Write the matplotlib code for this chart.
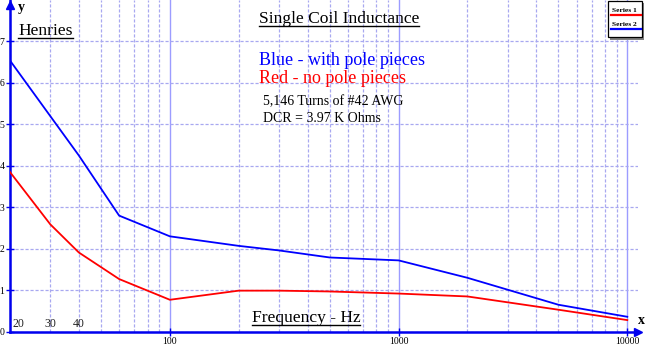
import matplotlib
matplotlib.use('Agg')
import matplotlib.pyplot as plt
from matplotlib.lines import Line2D
from matplotlib.patches import Rectangle
from matplotlib.ticker import LogLocator, NullFormatter, FixedLocator

# ---- data ----
freq = [20, 30, 40, 60, 100, 200, 300, 500, 1000, 2000, 5000, 10000]
with_poles = [6.54, 5.20, 4.25, 2.80, 2.30, 2.07, 1.96, 1.79, 1.72, 1.30, 0.65, 0.36]
no_poles = [3.85, 2.59, 1.91, 1.27, 0.77, 0.99, 0.99, 0.97, 0.92, 0.85, 0.53, 0.28]
x_ticks = [100, 1000, 10000]
x_tick_labels = ['100', '1000', '10000']
y_ticks = [0, 1, 2, 3, 4, 5, 6, 7]
low_labels = ['20', '30', '40']
low_label_x = [20, 30, 40]
series_names = ['Series 1', 'Series 2']

W, H = 645, 347
SERIF = ['Liberation Serif', 'DejaVu Serif']
AXBLUE = '#0000ee'
GRID = '#a8a8f0'

fig = plt.figure(figsize=(W / 100, H / 100), dpi=100)
fig.patch.set_facecolor('white')
ax = fig.add_axes([10 / W, 1 - 331.7 / H, 628 / W, 331.7 / H])
ax.set_facecolor('white')

ax.set_xscale('log')
ax.set_xlim(20, 11140)
ax.set_ylim(0, 8)

# grid
ax.xaxis.set_major_locator(FixedLocator(x_ticks))
ax.set_xticklabels(x_tick_labels)
ax.xaxis.set_minor_locator(LogLocator(base=10, subs=[2, 3, 4, 5, 6, 7, 8, 9]))
ax.xaxis.set_minor_formatter(NullFormatter())
ax.set_yticks(y_ticks)
ax.set_yticklabels([str(v) for v in y_ticks])

ax.grid(which='major', axis='y', color=GRID, linestyle=(0, (2.5, 1.5)), lw=0.9)
ax.grid(which='minor', axis='x', color=GRID, linestyle=(0, (2.5, 1.5)), lw=0.9)
ax.grid(which='major', axis='x', color='#9c9cff', linestyle='-', lw=1.0)
ax.set_axisbelow(True)

for s in ['top', 'right']:
    ax.spines[s].set_visible(False)
for s in ['left', 'bottom']:
    ax.spines[s].set_color(AXBLUE)
    ax.spines[s].set_linewidth(1.8)

ax.tick_params(axis='both', which='major', direction='inout', length=6,
               width=1.0, color=AXBLUE, labelsize=7, pad=1)
ax.tick_params(axis='x', which='minor', length=0)
for lab in ax.get_xticklabels() + ax.get_yticklabels():
    lab.set_fontfamily(SERIF)

# arrows at the ends of the axes
ax.plot([1.0], [0], marker='>', color=AXBLUE, ms=6, transform=ax.transAxes,
        clip_on=False, zorder=5)
ax.plot([0], [0.985], marker='^', color=AXBLUE, ms=6, transform=ax.transAxes,
        clip_on=False, zorder=5)

# series
ax.plot(freq, no_poles, color='#ff0000', lw=1.3, zorder=4)
ax.plot(freq, with_poles, color='#0000ff', lw=1.3, zorder=4)

# low-frequency labels
for i, (xv, lab) in enumerate(zip(low_label_x, low_labels)):
    ax.text(xv * (1.03 if i == 0 else 1.0), 0.12, lab, ha='left' if i == 0 else 'center',
            va='baseline', fontsize=8.5, family=SERIF, color='#222222')


def ftext(x, y, s, **kw):
    return fig.text(x / W, 1 - y / H, s, ha='left', va='baseline', family=SERIF, **kw)


texts_ul = []
t = ftext(18, 35, 'Henries', fontsize=12.6, color='black')
texts_ul.append((t, 37.6))
t = ftext(259, 23.3, 'Single Coil Inductance', fontsize=12.6, color='black')
texts_ul.append((t, 25.7))
t = ftext(251.7, 321.7, 'Frequency - Hz', fontsize=12.6, color='black')
texts_ul.append((t, 324.6))

ftext(259.3, 65, 'Blue - with pole pieces', fontsize=13, color='#0000ff')
ftext(259.3, 83.3, 'Red - no pole pieces', fontsize=13, color='#ff0000')
ftext(263.3, 105, '5,146 Turns of #42 AWG', fontsize=10, color='black')
ftext(263.3, 121.7, 'DCR = 3.97 K Ohms', fontsize=10, color='black')

ftext(18, 11.5, 'y', fontsize=10, color='black', weight='bold')
ftext(638, 324, 'x', fontsize=10, color='black', weight='bold')

# underlines
fig.canvas.draw()
r = fig.canvas.get_renderer()
for t, yu in texts_ul:
    bb = t.get_window_extent(r)
    fig.add_artist(Line2D([bb.x0 / W, bb.x1 / W], [1 - yu / H, 1 - yu / H],
                          transform=fig.transFigure, color='black', lw=1.0))

# legend box (manual)
lx0, ly0, lx1, ly1 = 607.7, 0.5, 641.5, 37.3
fig.add_artist(Rectangle((lx0 / W + 2.5 / W, 1 - (ly1 + 2.5) / H), (lx1 - lx0) / W, (ly1 - ly0) / H,
                         transform=fig.transFigure, facecolor='#808080', edgecolor='none'))
fig.add_artist(Rectangle((lx0 / W, 1 - ly1 / H), (lx1 - lx0) / W, (ly1 - ly0) / H,
                         transform=fig.transFigure, facecolor='white', edgecolor='black', lw=0.9))
leg_colors = ['#ff0000', '#0000ff']
for i, (name, c) in enumerate(zip(series_names, leg_colors)):
    ty = 12.0 + i * 14.5
    ftext(611.5, ty, name, fontsize=5.4, color='black', weight='bold')
    yl = ty + 2.8
    fig.add_artist(Line2D([610.5 / W, 640.5 / W], [1 - yl / H, 1 - yl / H],
                          transform=fig.transFigure, color=c, lw=1.6))

fig.savefig('out.png', dpi=100)
